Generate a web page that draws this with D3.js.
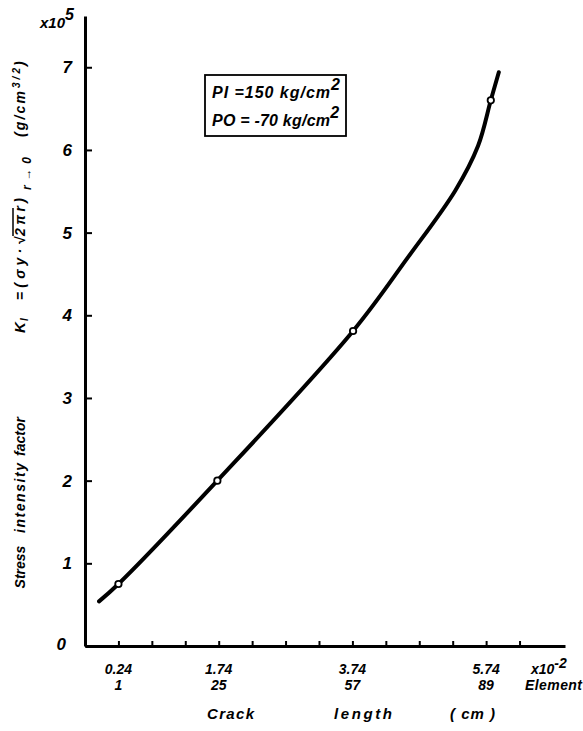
<!DOCTYPE html>
<html lang="en"><head><meta charset="UTF-8">
<script src="https://d3js.org/d3.v7.min.js"></script>
<style>
    body {margin: 0; background: #fff;}
    svg text {font-family: "Liberation Sans", Arial, sans-serif; font-style: italic; font-weight: bold; fill: #000;}
</style>
</head>
<body>
<div id="chart"></div>
<script>
//here comes the data
// crack length labels (x10^-2 cm) and element numbers under the axis
var crackLabels = ["0.24", "1.74", "3.74", "5.74"];
var elementLabels = ["1", "25", "57", "89"];

// computed points (circles)
var pointX = [0.24, 1.72, 3.75, 5.81];
var pointY = [0.75, 2.00, 3.81, 6.60];

// the drawn curve
var curveX = [-0.05, 0.24, 1.72, 3.75, 4.57, 5.28, 5.62, 5.81, 5.93];
var curveY = [0.54, 0.75, 2.00, 3.81, 4.70, 5.51, 6.05, 6.60, 6.94];

var yTicks = [0, 1, 2, 3, 4, 5, 6, 7];
var xTicks = [0.24, 0.74, 1.24, 1.74, 2.24, 2.74, 3.24, 3.74, 4.24, 4.74, 5.24, 5.74, 6.24];
//end of data

var W = 583, H = 731;

var svg = d3.select("#chart").append("svg")
    .attr("width", W)
    .attr("height", H);

var x = d3.scaleLinear().domain([-0.26, 6.92]).range([85, 565]);
var y = d3.scaleLinear().domain([0, 7.62]).range([646, 16]);

// put a text between a and b: spread it if short, center it if long
function fit(t, a, b) {
    var len = t.node().getComputedTextLength();
    if (len < b - a) {
        t.attr("x", a).attr("textLength", b - a).attr("lengthAdjust", "spacing");
    } else {
        t.attr("x", (a + b) / 2 - len / 2);
    }
    return t;
}

// axes ---------------------------------------------------------------
var yAxis = svg.append("g")
    .attr("transform", "translate(" + x(-0.26) + ",0)")
    .call(d3.axisLeft(y).tickValues(yTicks).tickSizeInner(-7).tickSizeOuter(0).tickPadding(13));
yAxis.select(".domain").attr("stroke-width", 3);
yAxis.selectAll(".tick line").attr("stroke-width", 2);
yAxis.selectAll(".tick text")
    .style("font-size", "17px")
    .attr("font-family", null);
yAxis.selectAll(".tick").filter(function(d) { return d === 0; }).select("text").attr("x", -19).attr("dy", "0.2em");

var xAxis = svg.append("g")
    .attr("transform", "translate(0," + y(0) + ")")
    .call(d3.axisBottom(x).tickValues(xTicks).tickSizeInner(-5).tickSizeOuter(0).tickFormat(""));
xAxis.select(".domain").attr("stroke-width", 3);
xAxis.selectAll(".tick line").attr("stroke-width", 2);

// x labels, two rows
svg.selectAll(".crackLab")
    .data(crackLabels)
    .enter().append("text")
    .attr("x", function(d) { return x(+d); })
    .attr("y", 674)
    .attr("text-anchor", "middle")
    .style("font-size", "14px")
    .text(function(d) { return d; });

svg.selectAll(".elemLab")
    .data(elementLabels)
    .enter().append("text")
    .attr("x", function(d, i) { return x(+crackLabels[i]); })
    .attr("y", 690)
    .attr("text-anchor", "middle")
    .style("font-size", "14px")
    .text(function(d) { return d; });

var xp = svg.append("text").attr("x", 531).attr("y", 674).style("font-size", "14px");
xp.append("tspan").text("x10");
xp.append("tspan").attr("dy", -6).style("font-size", "14px").text("-2");

fit(svg.append("text").attr("y", 690).style("font-size", "14px").text("Element"), 525, 582);

fit(svg.append("text").attr("y", 719).style("font-size", "15px").text("Crack"), 207, 254);
fit(svg.append("text").attr("y", 719).style("font-size", "15px").text("length"), 334, 392);
fit(svg.append("text").attr("y", 719).style("font-size", "15px").text("( cm )"), 450, 495);

// x10^5 at the top of the y axis
var yp = svg.append("text").attr("x", 40).attr("y", 28).style("font-size", "15px");
yp.append("tspan").text("x10");
yp.append("tspan").attr("dy", -8).style("font-size", "16px").text("5");

// rotated y label, pieces placed along the axis (page y, bottom to top)
var ylab = svg.append("g").attr("transform", "translate(25,0) rotate(-90)");
function piece(txt, fromY, toY, dv, size) {
    var t = ylab.append("text")
        .attr("y", dv)
        .style("font-size", size + "px")
        .text(txt);
    return fit(t, -fromY, -toY);
}
piece("Stress", 587, 547, 0, 14);
piece("intensity", 533, 463, 0, 14);
piece("factor", 453, 420, 0, 14);
piece("K", 333, 322, 0, 15);
piece("I", 321, 316, 3, 10);
piece("=(σy·√", 300, 237, 0, 14);
piece("2πr)", 236, 198, 0, 14);
ylab.append("line")
    .attr("x1", -236).attr("x2", -208)
    .attr("y1", -12).attr("y2", -12)
    .attr("stroke", "#000").attr("stroke-width", 1.5);
piece("r→0", 190, 157, 6, 12);
piece("(g/cm", 137, 91, 0, 14);
piece("3/2", 88, 68, -5, 10);
piece(")", 66, 60, 0, 14);

// legend box
svg.append("rect")
    .attr("x", 205).attr("y", 75)
    .attr("width", 141).attr("height", 61)
    .attr("fill", "none").attr("stroke", "#000").attr("stroke-width", 1.8);

var l1 = svg.append("text").attr("x", 212).attr("y", 98).style("font-size", "16px");
l1.append("tspan").attr("textLength", 118).attr("lengthAdjust", "spacing").text("PI =150 kg/cm");
l1.append("tspan").attr("dy", -8).text("2");
var l2 = svg.append("text").attr("x", 212).attr("y", 126).style("font-size", "16px");
l2.append("tspan").attr("textLength", 118).attr("lengthAdjust", "spacing").text("PO = -70 kg/cm");
l2.append("tspan").attr("dy", -8).text("2");

// curve and computed points
var curveData = curveX.map(function(v, i) { return {x: v, y: curveY[i]}; });
var line = d3.line()
    .x(function(d) { return x(d.x); })
    .y(function(d) { return y(d.y); })
    .curve(d3.curveCatmullRom.alpha(0.5));

svg.append("path")
    .datum(curveData)
    .attr("d", line)
    .attr("fill", "none")
    .attr("stroke", "#000")
    .attr("stroke-width", 4)
    .attr("stroke-linecap", "round");

svg.selectAll(".pt")
    .data(pointX)
    .enter().append("circle")
    .attr("cx", function(d) { return x(d); })
    .attr("cy", function(d, i) { return y(pointY[i]); })
    .attr("r", 3.2)
    .attr("fill", "#fff")
    .attr("stroke", "#000")
    .attr("stroke-width", 1.8);
</script>
</body>
</html>
